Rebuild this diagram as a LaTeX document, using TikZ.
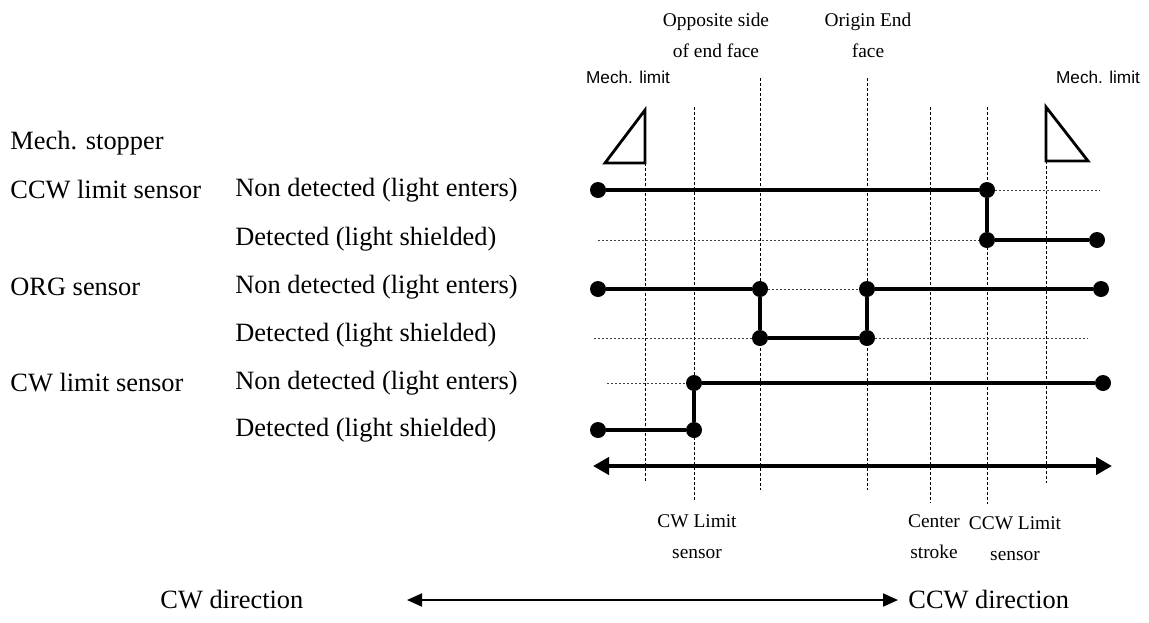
\documentclass[tikz,border=0pt]{standalone}
\usepackage{fontspec}
\setmainfont{Liberation Serif}
\newfontfamily\arialfont{Liberation Sans}
\usetikzlibrary{arrows.meta}
\begin{document}
\begin{tikzpicture}[x=0.5pt,y=-0.5pt,
  dot/.style={circle,fill=black,inner sep=0pt,minimum size=8pt},
  sig/.style={line width=2pt},
  hgrid/.style={black!75,line width=0.5pt,dash pattern=on 1pt off 1pt},
  vgrid/.style={black,line width=0.5pt,dash pattern=on 1.5pt off 1pt},
  tri/.style={line width=1.4pt,fill=white,line join=miter},
  lbl/.style={anchor=west,inner sep=0pt,font=\fontsize{13.2}{15}\selectfont},
  small/.style={align=center,inner sep=0pt,font=\fontsize{9.7}{15.5}\selectfont},
  mech/.style={inner sep=0pt,font=\arialfont\fontsize{8.6}{10}\selectfont}]
\useasboundingbox (0,0) rectangle (1149,622);
% vertical grid
\coordinate (v1t) at (645,163); \coordinate (v1b) at (645,482);
\coordinate (v2t) at (694,107); \coordinate (v2b) at (694,501);
\coordinate (v3t) at (760,78);  \coordinate (v3b) at (760,490);
\coordinate (v4t) at (867,78);  \coordinate (v4b) at (867,490);
\coordinate (v5t) at (930,107); \coordinate (v5b) at (930,503);
\coordinate (v6t) at (987,107); \coordinate (v6b) at (987,504);
\coordinate (v7t) at (1046,161); \coordinate (v7b) at (1046,483);
\foreach \i in {1,...,7} \draw[vgrid] (v\i t) -- (v\i b);
% triangles
\coordinate (ta) at (605,163); \coordinate (tb) at (645,163); \coordinate (tc) at (645,110);
\draw[tri] (ta) -- (tb) -- (tc) -- cycle;
\coordinate (ua) at (1046,107); \coordinate (ub) at (1046,161); \coordinate (uc) at (1088,161);
\draw[tri] (ua) -- (ub) -- (uc) -- cycle;
% labels left
\node[lbl] (ms) at (10,143) {Mech. stopper};
\node[lbl] (ccw) at (10,190) {CCW limit sensor};
\node[lbl] (org) at (10,287) {ORG sensor};
\node[lbl] (cw) at (10,383) {CW limit sensor};
\node[lbl] (s1) at (235,190) {Non detected (light enters)};
\node[lbl] (s2) at (235,239) {Detected (light shielded)};
\node[lbl] (s3) at (235,287) {Non detected (light enters)};
\node[lbl] (s4) at (235,335) {Detected (light shielded)};
\node[lbl] (s5) at (235,383) {Non detected (light enters)};
\node[lbl] (s6) at (235,430) {Detected (light shielded)};
% top labels
\node[small] (opp) at (716,35) {Opposite side\\of end face};
\node[small] (orig) at (868,35) {Origin End\\face};
\node[mech] (ml1) at (628,77) {Mech. limit};
\node[mech] (ml2) at (1098,77) {Mech. limit};
% bottom labels
\node[small] (cwl) at (697,537) {CW Limit\\sensor};
\node[small] (cen) at (934,537) {Center\\stroke};
\node[small] (ccwl) at (1015,539) {CCW Limit\\sensor};
% CCW limit sensor signal
\node[dot] (a1) at (598,190) {}; \node[dot] (a2) at (987,190) {};
\node[dot] (a3) at (987,240) {}; \node[dot] (a4) at (1097,240) {};
\coordinate (a1e) at (1100,190); \coordinate (a2s) at (598,240);
\draw[hgrid] (a2) -- (a1e);
\draw[hgrid] (a2s) -- (a3);
\draw[sig] (a1) -- (a2) -- (a3) -- (a4);
% ORG sensor signal
\node[dot] (b1) at (598,289) {}; \node[dot] (b2) at (760,289) {};
\node[dot] (b3) at (760,338) {}; \node[dot] (b4) at (867,338) {};
\node[dot] (b5) at (867,289) {}; \node[dot] (b6) at (1101,289) {};
\coordinate (b3s) at (594,338); \coordinate (b4e) at (1088,338);
\draw[hgrid] (b2) -- (b5);
\draw[hgrid] (b3s) -- (b3); \draw[hgrid] (b4) -- (b4e);
\draw[sig] (b1) -- (b2) -- (b3) -- (b4) -- (b5) -- (b6);
% CW limit sensor signal
\node[dot] (c1) at (598,430) {}; \node[dot] (c2) at (694,430) {};
\node[dot] (c3) at (694,383) {}; \node[dot] (c4) at (1103,383) {};
\coordinate (c3s) at (607,383);
\draw[hgrid] (c3s) -- (c3);
\draw[sig] (c1) -- (c2) -- (c3) -- (c4);
% stroke arrow
\coordinate (ar1) at (593,466); \coordinate (ar2) at (1112,466);
\draw[line width=2pt,{Triangle[length=8pt,width=8.5pt]}-{Triangle[length=8pt,width=8.5pt]}] (ar1) -- (ar2);
% direction
\node[lbl] (cwd) at (160,600) {CW direction};
\node[lbl] (ccwd) at (908,600) {CCW direction};
\coordinate (d1) at (407,600); \coordinate (d2) at (898,600);
\draw[line width=1pt,{Triangle[length=7.5pt,width=6.5pt]}-{Triangle[length=7.5pt,width=6.5pt]}] (d1) -- (d2);
\end{tikzpicture}
\end{document}
